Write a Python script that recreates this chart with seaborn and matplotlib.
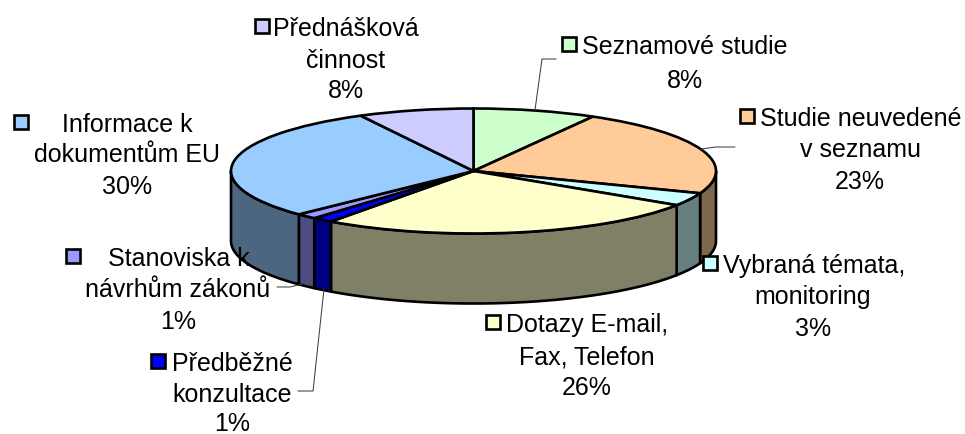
import numpy as np
import matplotlib
matplotlib.use("Agg")
import matplotlib.pyplot as plt
import seaborn as sns

categories = [["Seznamové studie"],
              ["Studie neuvedené", "v seznamu"],
              ["Vybraná témata,", "monitoring"],
              ["Dotazy E-mail,", "Fax, Telefon"],
              ["Předběžné", "konzultace"],
              ["Stanoviska k", "návrhům zákonů"],
              ["Informace k", "dokumentům EU"],
              ["Přednášková", "činnost"]]
values = [8.2, 22.6, 3.4, 25.8, 1.4, 1.4, 29.5, 7.7]
hex_colors = ["#CCFFCC", "#FFCC99", "#CCFFFF", "#FFFFCC",
              "#0000FF", "#9999FF", "#99CCFF", "#CCCCFF"]

sns.set_theme(style="white")
plt.rcParams["font.family"] = ["Liberation Sans", "DejaVu Sans"]
palette = sns.color_palette(hex_colors)

W, H = 965, 435
CX, CY, RX, RY, DEPTH = 473.5, 172.0, 242.5, 62.5, 70.0
LW = 1.9

fig = plt.figure(figsize=(W / 100, H / 100), dpi=100, facecolor="white")

# Chart axes: unit circle is stretched to the projected ellipse
ax = fig.add_axes([0, 0, 1, 1], zorder=1)
ax.patch.set_alpha(0)

# Side wall, drawn from the slice values
total = sum(values)
edges = np.cumsum([0] + values) / total * 360.0
d = DEPTH / RY
for i, col in enumerate(palette):
    a, b = max(edges[i], 90.0), min(edges[i + 1], 270.0)
    if b <= a:
        continue
    th = np.radians(np.linspace(a, b, 80))
    xs, ys = np.sin(th), np.cos(th)
    ax.fill(np.r_[xs, xs[::-1]], np.r_[ys, ys[::-1] - d],
            facecolor=tuple(c * 0.5 for c in col), edgecolor="black",
            linewidth=LW, joinstyle="round", zorder=1)

# Top face
ax.pie(values, colors=palette, startangle=90, counterclock=False, radius=1,
       wedgeprops=dict(edgecolor="black", linewidth=LW, zorder=2))
ax.set_aspect("auto")
ax.set_xlim((0 - CX) / RX, (W - CX) / RX)
ax.set_ylim((CY - H) / RY, CY / RY)
ax.set_axis_off()

# Overlay in pixel coordinates for labels, keys and leader lines
ov = fig.add_axes([0, 0, 1, 1], zorder=2)
ov.set_xlim(0, W)
ov.set_ylim(H, 0)
ov.set_axis_off()
ov.patch.set_alpha(0)

line_pos = [[(685, 45), (685, 78)],
            [(861, 117), (861, 148), (860, 180)],
            [(814, 264), (813, 295), (813, 327)],
            [(587, 323), (587, 355), (587, 386)],
            [(232, 362), (232, 393), (232, 422)],
            [(179, 257), (178, 288), (178, 320)],
            [(127, 123), (127, 153), (127, 185)],
            [(346, 27), (346, 59), (346, 89)]]
key_pos = [(569, 45), (747, 117), (709.5, 264), (493, 323),
           (158, 362), (73, 257), (21, 123), (262, 27)]
KEY = 14
for i, lines in enumerate(categories):
    texts = lines + [f"{round(values[i])}%"]
    for (x, y), t in zip(line_pos[i], texts):
        ov.text(x, y, t, fontsize=18, color="black", ha="center",
                va="center_baseline")
    kx, ky = key_pos[i]
    ov.add_patch(plt.Rectangle((kx - KEY / 2, ky - KEY / 2), KEY, KEY,
                               facecolor=palette[i], edgecolor="black",
                               linewidth=LW, zorder=3))

leaders = [[(535, 111), (542, 60), (556, 60)],
           [(701, 150), (716, 148), (735, 148)],
           [(277, 288), (290, 288), (302, 285)],
           [(298, 392), (313, 392), (324, 290)]]
for pts in leaders:
    p = np.array(pts)
    ov.plot(p[:, 0], p[:, 1], color="#404040", linewidth=0.75, zorder=2)

fig.savefig("out.png", dpi=100, facecolor="white")
